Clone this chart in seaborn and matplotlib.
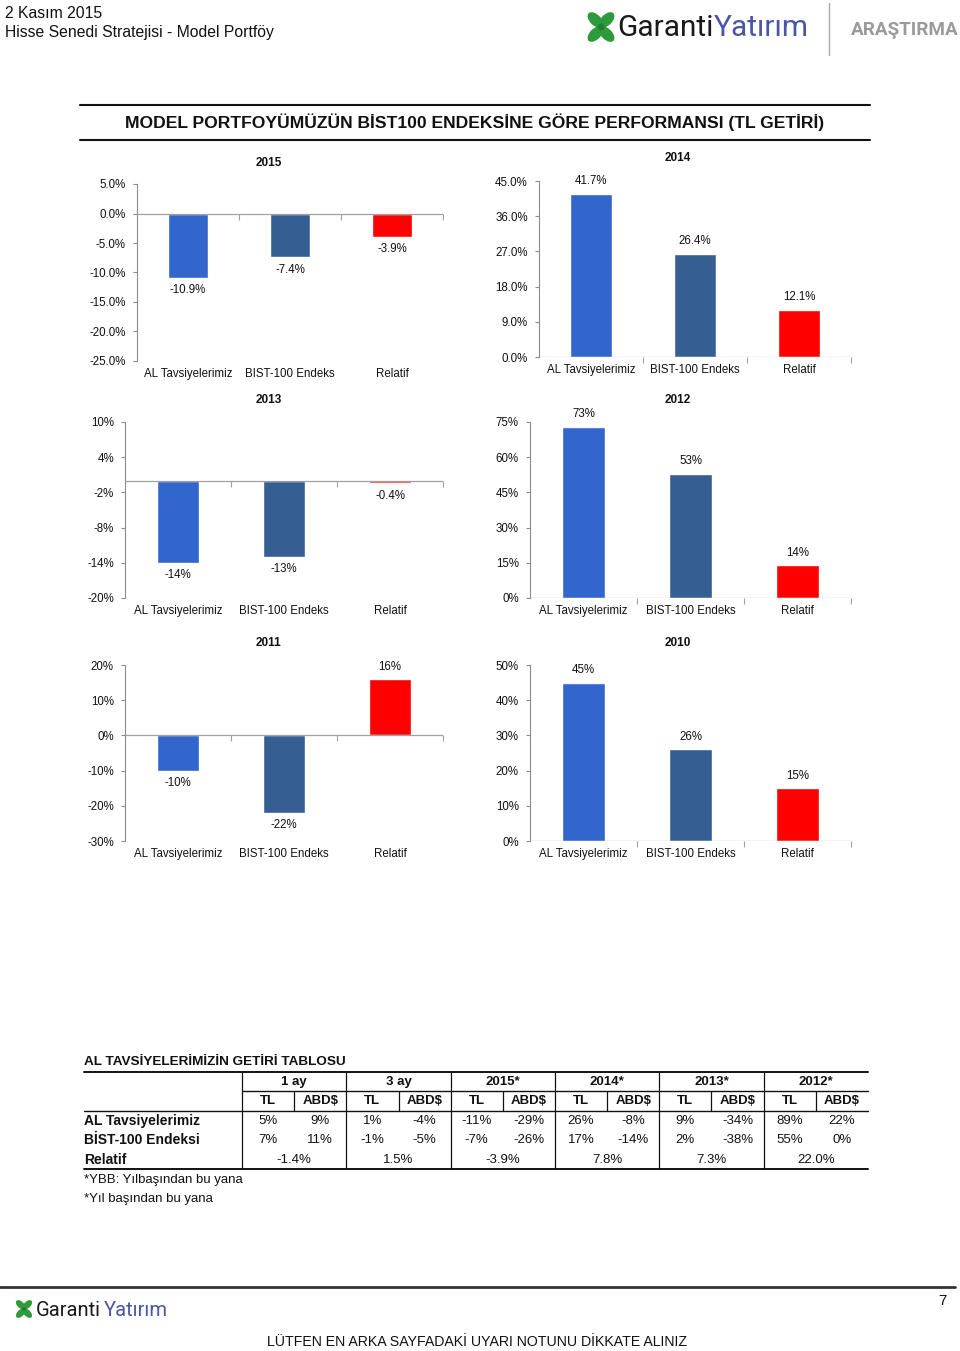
import numpy as np
import pandas as pd
import matplotlib
matplotlib.use("Agg")
import matplotlib.pyplot as plt
import seaborn as sns
from matplotlib.patches import Ellipse

sns.set_theme(style="white")
plt.rcParams['font.family'] = ['Liberation Sans', 'DejaVu Sans']

W, H = 960, 1351

# ---- chart data
categories = ["AL Tavsiyelerimiz", "BIST-100 Endeks", "Relatif"]
bar_colors = ["#3366CC", "#355F93", "#FF0000"]

ret_2015 = [-10.9, -7.4, -3.9]
ret_2014 = [41.7, 26.4, 12.1]
ret_2013 = [-14, -13, -0.4]
ret_2012 = [73, 53, 14]
ret_2011 = [-10, -22, 16]
ret_2010 = [45, 26, 15]

# ---- table data
periods = ["1 ay", "3 ay", "2015*", "2014*", "2013*", "2012*"]
row_names = ["AL Tavsiyelerimiz", "BİST-100 Endeksi", "Relatif"]
al_tl = [5, 1, -11, 26, 9, 89]
al_usd = [9, -4, -29, -8, -34, 22]
bist_tl = [7, -1, -7, 17, 2, 55]
bist_usd = [11, -5, -26, -14, -38, 0]
relatif = [-1.4, 1.5, -3.9, 7.8, 7.3, 22.0]


def rect(x0, y0, x1, y1):
    return [x0 / W, 1 - y1 / H, (x1 - x0) / W, (y1 - y0) / H]


def draw_year(ax, values, lo, hi, step, dec):
    df = pd.DataFrame({"kategori": categories, "getiri": values})
    sns.barplot(data=df, x="kategori", y="getiri", hue="kategori",
                palette=bar_colors, width=0.4, saturation=1,
                legend=False, ax=ax)
    ax.set_xlim(-0.5, 2.5)
    ax.set_ylim(lo, hi)
    ticks = np.arange(lo, hi + step / 2, step)
    ax.set_yticks(ticks)
    ax.set_yticklabels([f"{t:.{dec}f}%" for t in ticks])
    ax.set_xlabel("")
    ax.set_ylabel("")
    for s in ["top", "right", "bottom"]:
        ax.spines[s].set_visible(False)
    ax.spines["left"].set_color("#8c8c8c")
    ax.spines["left"].set_linewidth(0.8)
    ax.axhline(0, color="#a0a0a0", lw=0.9, zorder=3)
    ax.plot([0.5, 1.5, 2.5], [0, 0, 0], ls="none", marker=3, ms=4,
            color="#a0a0a0", mew=0.8, clip_on=False, zorder=3)
    ax.tick_params(axis="x", length=0, pad=5, labelsize=8.3, colors="#111")
    ax.tick_params(axis="y", left=True, length=3, width=0.8, color="#8c8c8c",
                   pad=5, labelsize=8.3, labelcolor="#111")
    for i, v in enumerate(values):
        txt = f"{v:.1f}%" if dec == 1 else f"{v:g}%"
        ax.annotate(txt, (i, v), xytext=(0, 9 if v >= 0 else -9),
                    textcoords="offset points", ha="center", va="center",
                    fontsize=8.3, color="#111")


fig = plt.figure(figsize=(W / 100, H / 100), dpi=100)

# page overlay in pixel coordinates
pg = fig.add_axes([0, 0, 1, 1])
pg.set_xlim(0, W)
pg.set_ylim(H, 0)
pg.axis("off")


def clover(cx, cy, s):
    for ang in [45, 135, 225, 315]:
        r = np.deg2rad(ang)
        pg.add_patch(Ellipse((cx + 8 * s * np.cos(r), cy + 10 * s * np.sin(r)),
                             11 * s, 19 * s, angle=ang + 90,
                             color="#2f9a3c", lw=0))
    pg.add_patch(Ellipse((cx, cy), 7 * s, 7 * s, color="#1f7f33", lw=0))


# header
pg.text(5, 13, "2 Kasım 2015", fontsize=11.3, va="center", color="#111")
pg.text(5, 33, "Hisse Senedi Stratejisi - Model Portföy", fontsize=11.3,
        va="center", color="#111")
clover(601, 27, 1.0)
pg.text(617, 28, "Garanti", family="Roboto", fontsize=21.5, va="center",
        color="#1a1a1a")
pg.text(714, 28, "Yatırım", family="Roboto", fontsize=21.5, va="center",
        color="#4a55a5")
pg.plot([829, 829], [3, 55], color="#aaaaaa", lw=1)
pg.text(851, 30, "ARAŞTIRMA", family="Roboto", fontweight="bold",
        fontsize=13.6, va="center", color="#9a9a9a")

# main title
pg.plot([80, 870], [105, 105], color="#111", lw=1.5)
pg.plot([80, 870], [140, 140], color="#111", lw=1.5)
pg.text(475, 122, "MODEL PORTFOYÜMÜZÜN BİST100 ENDEKSİNE GÖRE PERFORMANSI (TL GETİRİ)",
        fontsize=12.6, fontweight="bold", ha="center", va="center", color="#111")

# yearly charts: (values, axes px rect, ylim lo, hi, step, decimals, title xy)
charts = [
    ("2015", ret_2015, (137, 184, 443, 361), -25, 5, 5, 1, (269, 163)),
    ("2014", ret_2014, (539, 181, 851, 357), 0, 45, 9, 1, (678, 158)),
    ("2013", ret_2013, (125, 422, 443, 598), -20, 10, 6, 0, (269, 400)),
    ("2012", ret_2012, (530, 422, 851, 598), 0, 75, 15, 0, (678, 400)),
    ("2011", ret_2011, (125, 665, 443, 841), -30, 20, 10, 0, (269, 643)),
    ("2010", ret_2010, (530, 665, 851, 841), 0, 50, 10, 0, (678, 643)),
]
for year, vals, r, lo, hi, step, dec, (tx, ty) in charts:
    ax = fig.add_axes(rect(*r))
    ax.patch.set_visible(False)
    draw_year(ax, vals, lo, hi, step, dec)
    pg.text(tx, ty, year, fontsize=8.5, fontweight="bold", ha="center",
            va="center", color="#111")

# return table
tfs = 9.5
pg.text(84, 1062, "AL TAVSİYELERİMİZİN GETİRİ TABLOSU", fontsize=9.7,
        fontweight="bold", va="center", color="#111")
gx0, gw = 242, (868 - 242) / 6
pg.plot([84, 868], [1072, 1072], color="#111", lw=1.4)
pg.plot([gx0, 868], [1091, 1091], color="#111", lw=1)
pg.plot([84, 868], [1111, 1111], color="#111", lw=1)
pg.plot([84, 868], [1169, 1169], color="#111", lw=1.4)
for i, p in enumerate(periods):
    x = gx0 + i * gw
    pg.plot([x, x], [1072, 1169], color="#111", lw=0.9)
    pg.plot([x + gw / 2, x + gw / 2], [1091, 1111], color="#111", lw=0.9)
    pg.text(x + gw / 2, 1082, p, fontsize=tfs, fontweight="bold",
            ha="center", va="center", color="#111")
    pg.text(x + gw / 4, 1101, "TL", fontsize=tfs, fontweight="bold",
            ha="center", va="center", color="#111")
    pg.text(x + 3 * gw / 4, 1101, "ABD$", fontsize=tfs, fontweight="bold",
            ha="center", va="center", color="#111")
    for row_y, tl, usd in [(1121, al_tl[i], al_usd[i]),
                           (1140, bist_tl[i], bist_usd[i])]:
        pg.text(x + gw / 4, row_y, f"{tl}%", fontsize=tfs, ha="center",
                va="center", color="#111")
        pg.text(x + 3 * gw / 4, row_y, f"{usd}%", fontsize=tfs, ha="center",
                va="center", color="#111")
    pg.text(x + gw / 2, 1160, f"{relatif[i]:.1f}%", fontsize=tfs,
            ha="center", va="center", color="#111")
for name, row_y in zip(row_names, [1121, 1140, 1160]):
    pg.text(84, row_y, name, fontsize=10, fontweight="bold", va="center",
            color="#111")
pg.text(84, 1180, "*YBB: Yılbaşından bu yana", fontsize=tfs, va="center",
        color="#111")
pg.text(84, 1199, "*Yıl başından bu yana", fontsize=tfs, va="center",
        color="#111")

# footer
pg.plot([0, 955], [1287, 1287], color="#333", lw=2)
clover(24, 1309, 0.6)
pg.text(36, 1310, "Garanti", family="Roboto", fontsize=14.5, va="center",
        color="#1a1a1a")
pg.text(104, 1310, "Yatırım", family="Roboto", fontsize=14.5, va="center",
        color="#4a55a5")
pg.text(942, 1301, "7", fontsize=11, ha="center", va="center", color="#111")
pg.text(477, 1342, "LÜTFEN EN ARKA SAYFADAKİ UYARI NOTUNU DİKKATE ALINIZ",
        fontsize=10.2, ha="center", va="center", color="#111")

fig.savefig("out.png", dpi=100)
